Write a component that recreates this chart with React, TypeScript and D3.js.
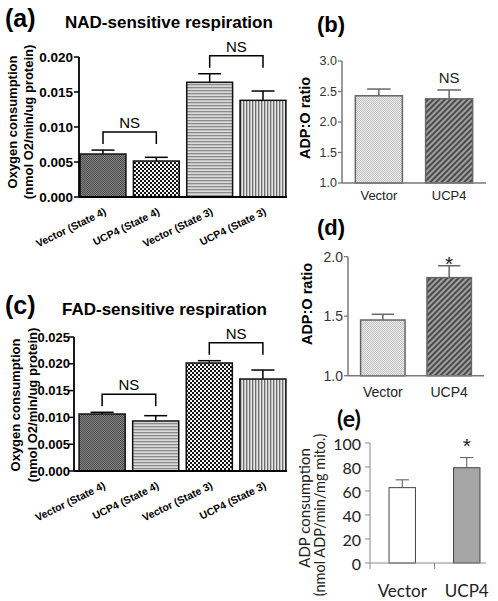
import React from 'react';
import * as d3 from 'd3';

// ---------- data ----------
const respCategories = ['Vector (State 4)', 'UCP4 (State 4)', 'Vector (State 3)', 'UCP4 (State 3)'];
const nadMeans = [0.00614, 0.00514, 0.01639, 0.01381];
const nadErrors = [0.00056, 0.00053, 0.00122, 0.00133];
const nadTicks = [0, 0.005, 0.01, 0.015, 0.02];
const fadMeans = [0.01063, 0.00933, 0.02015, 0.01716];
const fadErrors = [0.00032, 0.00099, 0.00043, 0.00168];
const fadTicks = [0, 0.005, 0.01, 0.015, 0.02, 0.025];
const comparisons: [number, number][] = [[0, 1], [2, 3]];

const ratioCategories = ['Vector', 'UCP4'];
const nadRatioMeans = [2.43, 2.38];
const nadRatioErrors = [0.11, 0.145];
const nadRatioTicks = [1.0, 1.5, 2.0, 2.5, 3.0];
const fadRatioMeans = [1.468, 1.824];
const fadRatioErrors = [0.048, 0.1];
const fadRatioTicks = [1.0, 1.5, 2.0];

const adpMeans = [62.8, 79.4];
const adpErrors = [6.5, 8.4];
const adpTicks = [0, 20, 40, 60, 80, 100];

// ---------- styles ----------
const nadFills = ['url(#pDark)', 'url(#pChk)', 'url(#pH)', 'url(#pV)'];
const fadFills = ['url(#pDark)', 'url(#pH)', 'url(#pChk)', 'url(#pV)'];
const ratioFills = ['url(#pLight)', 'url(#pDiag)'];
const adpFills = ['#ffffff', '#a6a6a6'];
const ARIAL = '"Liberation Sans", Arial, sans-serif';
const LATO = 'Lato, "Open Sans", sans-serif';

function Defs() {
  return (
    <defs>
      <pattern id="pDark" width={2} height={2} patternUnits="userSpaceOnUse">
        <rect width={2} height={2} fill="#858585" />
        <rect width={1} height={1} fill="#4a4a4a" />
        <rect x={1} y={1} width={1} height={1} fill="#4a4a4a" />
      </pattern>
      <pattern id="pChk" width={4} height={4} patternUnits="userSpaceOnUse">
        <rect width={4} height={4} fill="#f4f4f4" />
        <rect width={2} height={2} fill="#151515" />
        <rect x={2} y={2} width={2} height={2} fill="#151515" />
      </pattern>
      <pattern id="pH" width={3} height={3} patternUnits="userSpaceOnUse">
        <rect width={3} height={3} fill="#dadada" />
        <rect width={3} height={1} fill="#8a8a8a" />
        <rect y={1} width={3} height={1} fill="#c4c4c4" />
      </pattern>
      <pattern id="pV" width={3} height={3} patternUnits="userSpaceOnUse">
        <rect width={3} height={3} fill="#e6e6e6" />
        <rect width={1} height={3} fill="#6e6e6e" />
        <rect x={1} width={1} height={3} fill="#bdbdbd" />
      </pattern>
      <pattern id="pLight" width={2} height={2} patternUnits="userSpaceOnUse">
        <rect width={2} height={2} fill="#ececec" />
        <rect width={1} height={1} fill="#c2c2c2" />
        <rect x={1} y={1} width={1} height={1} fill="#c2c2c2" />
      </pattern>
      <pattern id="pDiag" width={4} height={4} patternUnits="userSpaceOnUse" patternTransform="rotate(45)">
        <rect width={4} height={4} fill="#a0a0a0" />
        <rect width={2} height={4} fill="#4a4a4a" />
      </pattern>
    </defs>
  );
}

type RespProps = {
  means: number[]; errors: number[]; ticks: number[]; fills: string[];
  axisX: number; axisRight: number; y0: number; yTop: number; bandRange: [number, number];
  label: string; title: string; labelY: number; titleX: number; ylabCenter: number; ylabX: [number, number];
  tickFont: number; tickGap: number;
};

function RespPanel(p: RespProps) {
  const max = p.ticks[p.ticks.length - 1];
  const y = d3.scaleLinear().domain([0, max]).range([p.y0, p.yTop]);
  const x = d3.scaleBand<string>().domain(respCategories).range(p.bandRange).paddingInner(0.14).paddingOuter(0.02);
  const bw = x.bandwidth();
  const fmt = d3.format('.3f');
  return (
    <g fontFamily={ARIAL}>
      <text x={5} y={p.labelY} fontSize={25} fontWeight="bold">{p.label}</text>
      <text x={p.titleX} y={p.labelY + 1} fontSize={17} fontWeight="bold">{p.title}</text>
      <text transform={`translate(${p.ylabX[0]},${p.ylabCenter}) rotate(-90)`} textAnchor="middle" dominantBaseline="central" fontSize={13} fontWeight="bold">Oxygen consumption</text>
      <text transform={`translate(${p.ylabX[1]},${p.ylabCenter}) rotate(-90)`} textAnchor="middle" dominantBaseline="central" fontSize={13} fontWeight="bold">(nmol O2/min/ug protein)</text>
      {p.ticks.map((t) => (
        <g key={t}>
          <line x1={p.axisX - 5} x2={p.axisX} y1={y(t)} y2={y(t)} stroke="#000" strokeWidth={1.5} />
          <text x={p.axisX - p.tickGap} y={y(t)} textAnchor="end" dominantBaseline="central" fontSize={p.tickFont} fontWeight="bold">{fmt(t)}</text>
        </g>
      ))}
      {p.means.map((m, i) => {
        const c = respCategories[i];
        const x0 = x(c)!;
        const cx = x0 + bw / 2;
        return (
          <g key={c}>
            <line x1={cx} x2={cx} y1={y(m)} y2={y(m + p.errors[i])} stroke="#000" strokeWidth={1.5} />
            <line x1={cx - bw / 4} x2={cx + bw / 4} y1={y(m + p.errors[i])} y2={y(m + p.errors[i])} stroke="#000" strokeWidth={1.5} />
            <rect x={x0} y={y(m)} width={bw} height={p.y0 - y(m)} fill={p.fills[i]} stroke="#111" strokeWidth={1.5} />
            <text transform={`translate(${cx + 4},${p.y0 + 17}) rotate(-26)`} textAnchor="end" fontSize={10.5} fontWeight="bold">{c}</text>
          </g>
        );
      })}
      <line x1={p.axisX} x2={p.axisX} y1={p.y0} y2={p.yTop} stroke="#000" strokeWidth={1.8} />
      <line x1={p.axisX} x2={p.axisRight} y1={p.y0} y2={p.y0} stroke="#000" strokeWidth={1.8} />
      {comparisons.map(([a, b]) => {
        const ca = x(respCategories[a])! + bw / 2;
        const cb = x(respCategories[b])! + bw / 2;
        const top = Math.min(y(p.means[a] + p.errors[a]), y(p.means[b] + p.errors[b])) - 18;
        return (
          <g key={a}>
            <path d={`M${ca},${top + 12}V${top}H${cb}V${top + 12}`} fill="none" stroke="#000" strokeWidth={1.5} />
            <text x={(ca + cb) / 2} y={top - 4} textAnchor="middle" fontSize={15}>NS</text>
          </g>
        );
      })}
    </g>
  );
}

type RatioProps = {
  means: number[]; errors: number[]; ticks: number[];
  axisX: number; axisRight: number; y0: number; yTop: number;
  label: string; labelY: number; ylabX: number; ylabCenter: number;
  mark: string; markSize: number; markOffset: number; tickFont: number; catFont: number; catY: number;
};

function RatioPanel(p: RatioProps) {
  const y = d3.scaleLinear().domain([p.ticks[0], p.ticks[p.ticks.length - 1]]).range([p.y0, p.yTop]);
  const x = d3.scaleBand<string>().domain(ratioCategories).range([p.axisX, p.axisRight]).paddingInner(0.33).paddingOuter(0.19);
  const bw = x.bandwidth();
  const axisCol = '#7a7a7a';
  return (
    <g fontFamily={ARIAL}>
      <text x={317} y={p.labelY} fontSize={22} fontWeight="bold">{p.label}</text>
      <text transform={`translate(${p.ylabX},${p.ylabCenter}) rotate(-90)`} textAnchor="middle" dominantBaseline="central" fontSize={14.5} fontWeight="bold">ADP:O ratio</text>
      {p.ticks.map((t) => (
        <g key={t}>
          <line x1={p.axisX - 4} x2={p.axisX} y1={y(t)} y2={y(t)} stroke={axisCol} strokeWidth={1.3} />
          <text x={p.axisX - 5} y={y(t)} textAnchor="end" dominantBaseline="central" fontSize={p.tickFont} fill="#333">{t.toFixed(1)}</text>
        </g>
      ))}
      {p.means.map((m, i) => {
        const c = ratioCategories[i];
        const x0 = x(c)!;
        const cx = x0 + bw / 2;
        const et = y(m + p.errors[i]);
        return (
          <g key={c}>
            <line x1={cx} x2={cx} y1={y(m)} y2={et} stroke="#666" strokeWidth={1.5} />
            <line x1={cx - bw / 4} x2={cx + bw / 4} y1={et} y2={et} stroke="#666" strokeWidth={1.5} />
            <rect x={x0} y={y(m)} width={bw} height={p.y0 - y(m)} fill={ratioFills[i]} stroke="#666" strokeWidth={1.5} />
            <text x={cx} y={p.catY} textAnchor="middle" fontSize={p.catFont} fill="#222">{c}</text>
            {i === 1 && (
              <text x={cx} y={et + p.markOffset} textAnchor="middle" fontSize={p.markSize} fill="#222">{p.mark}</text>
            )}
          </g>
        );
      })}
      <line x1={p.axisX} x2={p.axisX} y1={p.y0} y2={p.yTop} stroke={axisCol} strokeWidth={1.5} />
      <line x1={p.axisX} x2={p.axisRight} y1={p.y0} y2={p.y0} stroke={axisCol} strokeWidth={1.5} />
    </g>
  );
}

function AdpPanel() {
  const axisX = 370, y0 = 563, yTop = 443, right = 486;
  const y = d3.scaleLinear().domain([0, 100]).range([y0, yTop]);
  const x = d3.scaleBand<string>().domain(ratioCategories).range([axisX, 499]);
  const step = x.bandwidth();
  const bw = step * 0.41;
  const axisCol = '#8a8a8a';
  return (
    <g fontFamily={LATO}>
      <text x={337} y={427} fontSize={23} fontWeight="bold">(e)</text>
      <text transform={`translate(304,508) rotate(-90)`} textAnchor="middle" dominantBaseline="central" fontSize={15} fill="#222">ADP consumption</text>
      <text transform={`translate(319,515) rotate(-90)`} textAnchor="middle" dominantBaseline="central" fontSize={14.5} fill="#222">(nmol ADP/min/mg mito.)</text>
      {adpTicks.map((t) => (
        <g key={t}>
          <line x1={axisX - 5} x2={axisX} y1={y(t)} y2={y(t)} stroke={axisCol} strokeWidth={1} />
          <text x={axisX - 9} y={y(t)} textAnchor="end" dominantBaseline="central" fontSize={16} fill="#222">{t}</text>
        </g>
      ))}
      {[axisX, axisX + step].map((tx) => (
        <line key={tx} x1={tx} x2={tx} y1={y0} y2={y0 + 6} stroke={axisCol} strokeWidth={1} />
      ))}
      {adpMeans.map((m, i) => {
        const c = ratioCategories[i];
        const cx = x(c)! + step / 2;
        const et = y(m + adpErrors[i]);
        return (
          <g key={c}>
            <line x1={cx} x2={cx} y1={y(m)} y2={et} stroke="#555" strokeWidth={1} />
            <line x1={cx - bw / 4} x2={cx + bw / 4} y1={et} y2={et} stroke="#555" strokeWidth={1} />
            <rect x={cx - bw / 2} y={y(m)} width={bw} height={y0 - y(m)} fill={adpFills[i]} stroke="#444" strokeWidth={1} />
            <text x={cx} y={597} textAnchor="middle" fontSize={17} fill="#222">{c}</text>
            {i === 1 && <text x={cx} y={et - 5} textAnchor="middle" fontSize={21} fill="#222" fontFamily={ARIAL}>*</text>}
          </g>
        );
      })}
      <line x1={axisX} x2={axisX} y1={y0} y2={yTop} stroke={axisCol} strokeWidth={1} />
      <line x1={axisX} x2={right} y1={y0} y2={y0} stroke={axisCol} strokeWidth={1} />
    </g>
  );
}

export default function App() {
  return (
    <svg width={498} height={601} style={{ position: 'absolute', left: 0, top: 0, background: '#fff' }}>
      <Defs />
      <rect width={498} height={601} fill="#fff" />
      <RespPanel means={nadMeans} errors={nadErrors} ticks={nadTicks} fills={nadFills}
        axisX={79} axisRight={287} y0={197} yTop={57} bandRange={[79, 287]}
        label="(a)" title="NAD-sensitive respiration" labelY={27} titleX={65} ylabCenter={122} ylabX={[12, 28]}
        tickFont={13.5} tickGap={6} />
      <RespPanel means={fadMeans} errors={fadErrors} ticks={fadTicks} fills={fadFills}
        axisX={74} axisRight={287} y0={471} yTop={337} bandRange={[78, 287]}
        label="(c)" title="FAD-sensitive respiration" labelY={314} titleX={62} ylabCenter={405} ylabX={[15, 32]}
        tickFont={13} tickGap={4} />
      <RatioPanel means={nadRatioMeans} errors={nadRatioErrors} ticks={nadRatioTicks}
        axisX={342} axisRight={486} y0={183} yTop={61} label="(b)" labelY={32} ylabX={305} ylabCenter={118}
        mark="NS" markSize={15} markOffset={-7} tickFont={12.5} catFont={13} catY={200} />
      <RatioPanel means={fadRatioMeans} errors={fadRatioErrors} ticks={fadRatioTicks}
        axisX={348} axisRight={484} y0={375.7} yTop={256.7} label="(d)" labelY={235} ylabX={307} ylabCenter={304}
        mark="*" markSize={21} markOffset={5} tickFont={14} catFont={14} catY={397} />
      <AdpPanel />
    </svg>
  );
}
